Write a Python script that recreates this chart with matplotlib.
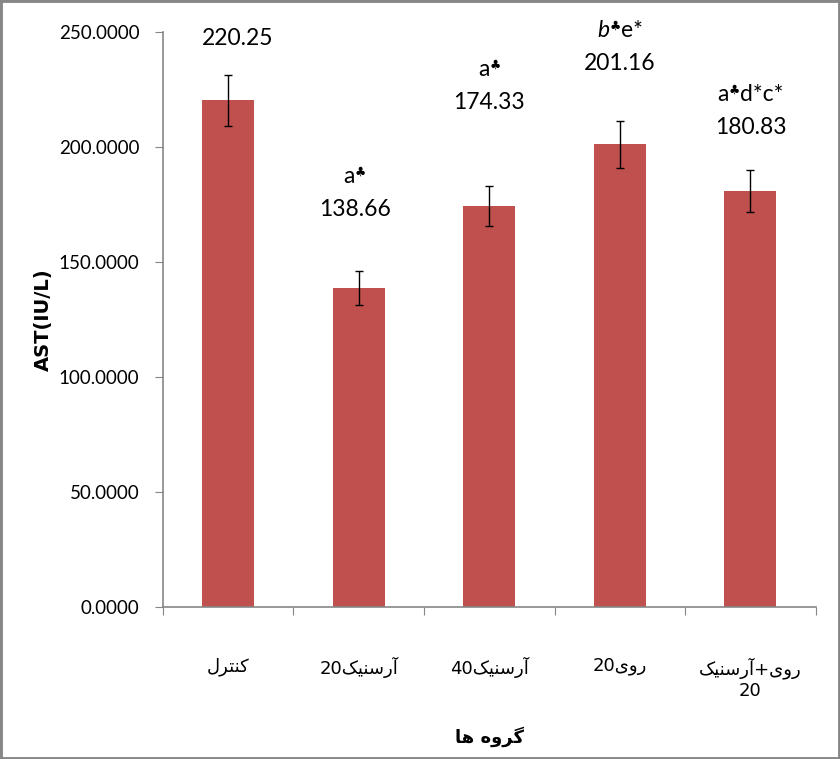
import re
import numpy as np
import matplotlib
matplotlib.use("Agg")
import matplotlib.pyplot as plt
from matplotlib.patches import Rectangle
from matplotlib.offsetbox import TextArea, HPacker, AnnotationBbox

# --- DATA ---
groups = ["کنترل", "آرسنیک20", "آرسنیک40", "روی20", "روی+آرسنیک\n20"]
ast_mean = [220.25, 138.66, 174.33, 201.16, 180.83]
ast_err = [11.0, 7.3, 8.8, 10.2, 9.0]
# significance marks: (text, kind) with n = normal, i = italic, s = small superscript
sig_marks = [
    [],
    [("a", "n"), ("♣", "s")],
    [("a", "n"), ("♣", "s")],
    [("b", "i"), ("♣", "s"), ("e*", "n")],
    [("a", "n"), ("♣", "s"), ("d*c*", "n")],
]
y_ticks = [0, 50, 100, 150, 200, 250]
x_title = "گروه ها"
y_title = "AST(IU/L)"

# label placement (data units above bar top, category-unit x shift)
label_lift = [27.0, 34.0, 45.0, 35.0, 27.5]
label_dx = [0.07, -0.03, 0.0, 0.0, 0.0]
mark_gap = 14.5

# --- persian shaping (matplotlib has no bidi / joining) ---
FORMS = {
    'ا': ('\uFE8D', '\uFE8E', None, None),
    'آ': ('\uFE81', '\uFE82', None, None),
    'ر': ('\uFEAD', '\uFEAE', None, None),
    'و': ('\uFEED', '\uFEEE', None, None),
    'س': ('\uFEB1', '\uFEB2', '\uFEB3', '\uFEB4'),
    'ن': ('\uFEE5', '\uFEE6', '\uFEE7', '\uFEE8'),
    'ت': ('\uFE95', '\uFE96', '\uFE97', '\uFE98'),
    'ل': ('\uFEDD', '\uFEDE', '\uFEDF', '\uFEE0'),
    'ی': ('\uFBFC', '\uFBFD', '\uFBFE', '\uFBFF'),
    'ک': ('\uFB8E', '\uFB8F', '\uFB90', '\uFB91'),
    'گ': ('\uFB92', '\uFB93', '\uFB94', '\uFB95'),
    'ه': ('\uFEE9', '\uFEEA', '\uFEEB', '\uFEEC'),
}


def shape(word):
    out = []
    for i, ch in enumerate(word):
        if ch not in FORMS:
            out.append(ch)
            continue
        prev = word[i - 1] if i > 0 else None
        nxt = word[i + 1] if i + 1 < len(word) else None
        join_prev = prev in FORMS and FORMS[prev][2] is not None
        join_next = FORMS[ch][2] is not None and nxt in FORMS
        iso, fin, ini, med = FORMS[ch]
        if join_prev and join_next:
            out.append(med)
        elif join_prev:
            out.append(fin)
        elif join_next:
            out.append(ini)
        else:
            out.append(iso)
    return "".join(out)


def visual(text):
    # right-to-left line: trailing digits end up on the left
    lines = []
    for line in text.split("\n"):
        arabic, digits = re.match(r"^(.*?)(\d*)$", line).groups()
        lines.append(digits + shape(arabic)[::-1])
    return "\n".join(lines)


plt.rcParams['font.family'] = ['Lato', 'DejaVu Sans']

fig = plt.figure(figsize=(8.4, 7.59), dpi=100)
ax = fig.add_axes([0.194, 0.2003, 0.777, 0.7576])

x = np.arange(len(groups))
ax.bar(x, ast_mean, width=0.4, color='#C0504D', zorder=2)
ax.errorbar(x, ast_mean, yerr=ast_err, fmt='none', ecolor='black',
            elinewidth=1, capsize=3.2, capthick=1, zorder=3)

label_size = 16.5
for i, (val, mark) in enumerate(zip(ast_mean, sig_marks)):
    ty = val + label_lift[i]
    ax.text(i + label_dx[i], ty, f"{val:.2f}", ha='center', va='center',
            fontsize=label_size, color='black', clip_on=False)
    if mark:
        parts = []
        for txt, kind in mark:
            if kind == "s":
                props = dict(fontsize=9, color='black', family=['DejaVu Sans'])
            elif kind == "i":
                props = dict(fontsize=label_size, color='black', style='italic')
            else:
                props = dict(fontsize=label_size, color='black')
            parts.append(TextArea(txt, textprops=props))
        box = HPacker(children=parts, align="top", pad=0, sep=0)
        ab = AnnotationBbox(box, (i + label_dx[i], ty + mark_gap), frameon=False,
                            box_alignment=(0.5, 0.5), annotation_clip=False)
        ax.add_artist(ab)

ax.set_xlim(-0.5, len(groups) - 0.5)
ax.set_ylim(0, 250)
ax.set_yticks(y_ticks)
ax.set_yticklabels([f"{v:.4f}" for v in y_ticks], fontsize=13.5)

ax.set_xticks(np.arange(-0.5, len(groups), 1.0))
ax.set_xticklabels([])
ax.set_xticks(x, minor=True)
ax.set_xticklabels([visual(g) for g in groups], minor=True,
                   fontsize=13, family=['DejaVu Sans'])

ax.tick_params(axis='x', which='major', length=6, color='#868686', direction='out')
ax.tick_params(axis='x', which='minor', length=0, pad=36)
ax.tick_params(axis='y', length=6, color='#868686', direction='out', pad=11)

for side in ['top', 'right']:
    ax.spines[side].set_visible(False)
for side in ['left', 'bottom']:
    ax.spines[side].set_color('#868686')
    ax.spines[side].set_linewidth(1.2)

ax.set_ylabel(y_title, fontsize=14, fontweight='bold', family=['DejaVu Sans'])
ax.yaxis.set_label_coords(-0.168, 0.5)
ax.set_xlabel(visual(x_title), fontsize=13, fontweight='bold', family=['DejaVu Sans'])
ax.xaxis.set_label_coords(0.5, -0.207)

fig.patches.append(Rectangle((0, 0), 1, 1, transform=fig.transFigure,
                             fill=False, edgecolor='#878787', linewidth=3.5))

fig.savefig("out.png", dpi=100)
